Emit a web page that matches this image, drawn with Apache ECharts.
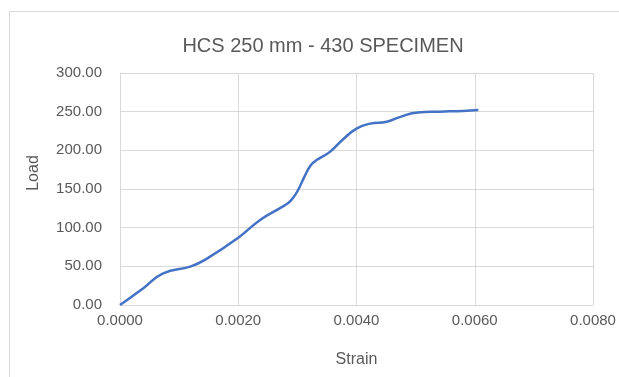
<!DOCTYPE html>
<html>
<head>
<meta charset="utf-8">
<title>HCS 250 mm - 430 SPECIMEN</title>
<script src="https://cdn.jsdelivr.net/npm/echarts@6/dist/echarts.min.js"></script>
<style>
  html, body { margin: 0; padding: 0; background: #fff; }
  #chart { width: 619px; height: 377px; }
</style>
</head>
<body>
<div id="chart"></div>
<script>
// 应变 (Strain) 和 荷载 (Load) 数据
const strain = [0, 0.0004, 0.00073, 0.0012, 0.00147, 0.0020, 0.00237, 0.0027, 0.0028, 0.0029, 0.0030,
  0.00312, 0.00322, 0.0033, 0.00338, 0.00355, 0.00377, 0.0040, 0.00423, 0.00451, 0.00473, 0.00504,
  0.0054, 0.0058, 0.00606];
const load = [0, 22, 41, 50, 60, 87, 110, 125, 129.5, 136, 147,
  166, 180, 186, 190, 198, 214, 228, 234.5, 237, 243, 249,
  250, 251, 252];
const xTicks = [0, 0.002, 0.004, 0.006, 0.008];
const yTicks = [0, 50, 100, 150, 200, 250, 300];

const font = "Liberation Sans";
const textColor = "#595959";
const gridColor = "#d9d9d9";

let myChart = echarts.init(document.getElementById("chart"));

let option = {
  backgroundColor: "#fff",
  animation: false,
  title: {
    text: "HCS 250 mm - 430 SPECIMEN",
    left: 318,
    top: 31,
    textAlign: "center",
    textStyle: { color: textColor, fontSize: 20, fontWeight: "normal", fontFamily: font },
  },
  // 外框
  graphic: [
    {
      type: "rect",
      left: 7,
      top: 9,
      shape: { width: 640, height: 400 },
      style: { fill: "none", stroke: gridColor, lineWidth: 1 },
      silent: true,
    },
  ],
  grid: { left: 120, right: 26, top: 73, bottom: 72 },
  xAxis: {
    type: "value",
    min: xTicks[0],
    max: xTicks[xTicks.length - 1],
    interval: 0.002,
    name: "Strain",
    nameLocation: "middle",
    nameGap: 47,
    nameTextStyle: { color: textColor, fontSize: 16, fontFamily: font },
    axisLine: { show: true, lineStyle: { color: gridColor } },
    axisTick: { show: false },
    axisLabel: {
      color: textColor,
      fontSize: 15,
      fontFamily: font,
      margin: 8,
      formatter: (v) => v.toFixed(4),
    },
    splitLine: { show: true, lineStyle: { color: gridColor } },
  },
  yAxis: {
    type: "value",
    min: yTicks[0],
    max: yTicks[yTicks.length - 1],
    interval: 50,
    name: "Load",
    nameLocation: "middle",
    nameGap: 78,
    nameTextStyle: { color: textColor, fontSize: 16, fontFamily: font, padding: [0, 0, 0, 32] },
    axisLine: { show: true, lineStyle: { color: gridColor } },
    axisTick: { show: false },
    axisLabel: {
      color: textColor,
      fontSize: 15,
      fontFamily: font,
      margin: 18,
      formatter: (v) => v.toFixed(2),
    },
    splitLine: { show: true, lineStyle: { color: gridColor } },
  },
  series: [
    {
      type: "line",
      data: strain.map((s, i) => [s, load[i]]),
      smooth: 0.5,
      showSymbol: false,
      lineStyle: { color: "#4472C4", width: 2.5 },
    },
  ],
};

myChart.setOption(option, true);
</script>
</body>
</html>
